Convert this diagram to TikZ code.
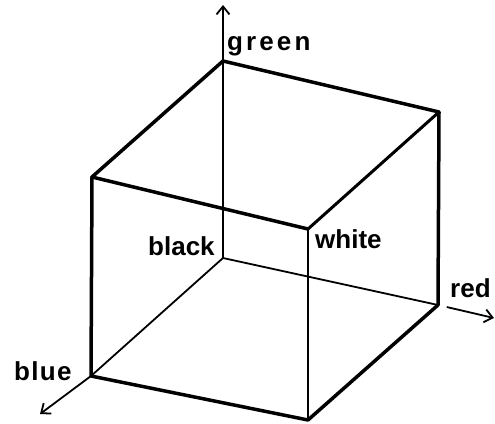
\documentclass[tikz,border=0pt]{standalone}
\usepackage{fontspec}
\setmainfont{Liberation Sans}
\usetikzlibrary{arrows.meta}

\tikzset{
  edge/.style={line width=3.5pt, line cap=round, line join=round},
  hidden/.style={line width=1.8pt},
  axis/.style={line width=1.8pt, -{Straight Barb[length=8pt,width=13pt,line width=1.8pt]}},
  lbl/.style={font=\fontsize{26}{30}\selectfont\bfseries, inner sep=0pt, anchor=base west}
}

\begin{document}
\begin{tikzpicture}[x=1pt,y=-1pt]
\useasboundingbox (0,0) rectangle (495,423);

% Corners of the cube
\coordinate (k) at (223,258);   % black
\coordinate (g) at (223,61);    % green
\coordinate (y) at (439,112);   % yellow
\coordinate (r) at (438,305);   % red
\coordinate (c) at (92,177);    % cyan
\coordinate (w) at (308,229);   % white
\coordinate (m) at (308,420);   % magenta
\coordinate (b) at (91,376);    % blue

% Free ends of the axes
\coordinate (gtip) at (223,5);
\coordinate (btip) at (40,414);
\coordinate (rtip) at (494,318);

% Hidden edges from black
\draw[hidden] (k) -- (g);
\draw[hidden] (k) -- (r);
\draw[hidden] (k) -- (b);

% Axes
\draw[axis] (g) -- (gtip);
\draw[axis] (b) -- (btip);
\draw[axis, shorten <=9pt] (r) -- (rtip);

% Visible edges
\draw[edge] (g) -- (y) -- (r) -- (m) -- (b) -- (c) -- cycle;
\draw[edge] (c) -- (w);
\draw[edge, line width=3pt] (w) -- (y);
\draw[edge, line width=2.5pt] (w) -- (m);

% Labels
\node[lbl, font=\fontsize{26}{30}\selectfont\bfseries\addfontfeatures{LetterSpace=12}] (glbl) at (227,50) {green};
\node[lbl] (klbl) at (148,255) {black};
\node[lbl] (wlbl) at (315,248) {white};
\node[lbl, font=\fontsize{26}{30}\selectfont\bfseries\addfontfeatures{LetterSpace=5}] (blbl) at (14,380) {blue};
\node[lbl] (rlbl) at (450,297) {red};

\end{tikzpicture}
\end{document}
